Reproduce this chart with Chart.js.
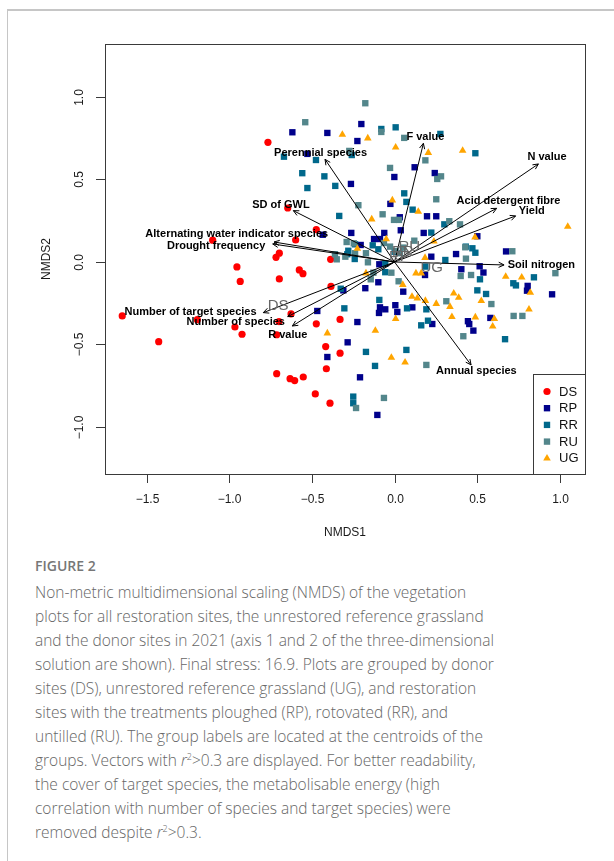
<!DOCTYPE html>
<html>
<head>
<meta charset="utf-8">
<script src="https://cdn.jsdelivr.net/npm/chart.js@4/dist/chart.umd.min.js"></script>
<style>
  html, body { margin: 0; padding: 0; background: #fff; }
  #page { position: relative; width: 614px; height: 861px; overflow: hidden; }
  #frame { position: absolute; left: 7px; top: 9px; right: 0; bottom: 0;
           border-top: 2px solid #c6c6c6; border-left: 1px solid #c6c6c6; }
  #nmds { position: absolute; left: 0; top: 0; }
  #preload { position: absolute; left: -999px; top: 0; font-family: "Liberation Sans"; }
  #preload b { font-weight: bold; }
  #caption { position: absolute; left: 35px; top: 557px; color: #666;
             font-family: "Open Sans", "Noto Sans", sans-serif; }
  #caption .fig { font-size: 14px; line-height: 18px; font-weight: 600; color: #777; margin-bottom: 5px; }
  #caption .txt { font-size: 15.5px; line-height: 24px; font-weight: 300; white-space: nowrap; }
  #caption sup { font-size: 9px; line-height: 0; vertical-align: 6px; }
</style>
</head>
<body>
<div id="page">
  <div id="frame"></div>
  <span id="preload">NMDS <b>Yield</b></span>
  <canvas id="nmds" width="614" height="545"></canvas>
  <div id="caption">
    <div class="fig">FIGURE 2</div>
    <div class="txt">
      Non-metric multidimensional scaling (NMDS) of the vegetation<br>
      plots for all restoration sites, the unrestored reference grassland<br>
      and the donor sites in 2021 (axis 1 and 2 of the three-dimensional<br>
      solution are shown). Final stress: 16.9. Plots are grouped by donor<br>
      sites (DS), unrestored reference grassland (UG), and restoration<br>
      sites with the treatments ploughed (RP), rotovated (RR), and<br>
      untilled (RU). The group labels are located at the centroids of the<br>
      groups. Vectors with <i>r</i><sup>2</sup>&gt;0.3 are displayed. For better readability,<br>
      the cover of target species, the metabolisable energy (high<br>
      correlation with number of species and target species) were<br>
      removed despite <i>r</i><sup>2</sup>&gt;0.3.
    </div>
  </div>
</div>
<script>
// site scores (NMDS1, NMDS2) per group
const dsX = [-0.767,-0.647,-0.474,-1.102,-0.599,-0.698,-0.718,-0.387,-0.955,-0.577,-0.555,-0.935,-0.698,-0.385,-0.627,-0.330,-0.474,-0.700,-1.650,-1.195,-0.967,-0.924,-0.714,-1.429,-0.417,-0.330,-0.413,-0.714,-0.633,-0.605,-0.553,-0.480,-0.391];
const dsY = [0.725,0.327,0.196,0.132,0.133,0.053,0.028,0.016,-0.030,-0.048,-0.071,-0.118,-0.103,-0.148,-0.315,-0.348,-0.375,-0.361,-0.327,-0.350,-0.394,-0.438,-0.441,-0.483,-0.513,-0.553,-0.647,-0.677,-0.707,-0.719,-0.697,-0.800,-0.856];

const rpX = [-0.619,-0.407,-0.528,-0.264,-0.435,-0.310,-0.468,-0.284,-0.407,-0.201,-0.225,0.122,0.244,-0.001,-0.025,0.197,0.253,0.032,0.038,0.177,-0.262,-0.062,0.502,-0.124,-0.088,0.373,0.676,0.223,0.516,0.405,0.539,0.807,0.803,0.955,0.581,0.445,0.453,0.478,0.229,-0.225,-0.088,-0.056,-0.094,0.005,0.017,0.108,0.053,-0.098,-0.177,-0.209,-0.104,-0.205,-0.092,0.185];
const rpY = [0.786,0.782,0.655,0.473,0.165,-0.172,-0.297,-0.487,-0.576,0.836,0.733,0.574,0.539,0.515,0.352,0.277,0.277,0.271,0.192,0.176,0.176,0.176,0.156,0.139,0.139,0.048,0.064,0.032,-0.026,-0.044,-0.064,-0.145,-0.174,-0.196,-0.339,-0.359,-0.376,-0.416,-0.376,-0.364,-0.275,-0.287,-0.309,-0.262,-0.303,-0.275,-0.180,-0.123,-0.159,-0.699,-0.927,0.103,-0.014,-0.079];

const rrX = [-0.670,-0.476,-0.559,-0.425,-0.528,-0.359,-0.335,-0.280,-0.326,-0.304,-0.259,-0.080,0.007,0.278,0.490,0.059,0.110,0.302,0.223,-0.132,0.472,0.490,-0.241,0.308,0.001,0.845,0.072,-0.239,0.432,0.518,0.720,0.736,0.502,0.555,-0.092,0.076,0.193,0.162,0.203,0.072,-0.118,-0.173,-0.250,-0.250,0.670,-0.056,-0.286,-0.056,0.187,-0.098];
const rrY = [0.638,0.618,0.538,0.519,0.448,0.461,0.279,0.068,-0.162,-0.281,0.648,0.806,0.816,0.776,0.659,0.416,0.317,0.228,0.178,0.101,0.083,0.056,0.018,0.012,0.062,-0.093,0.364,0.107,0.093,-0.105,-0.129,-0.142,-0.172,-0.194,-0.230,-0.281,-0.287,-0.384,-0.356,-0.533,-0.630,-0.545,-0.816,-0.856,-0.468,-0.062,0.047,-0.010,-0.028,0.077];

const ruX = [-0.541,-0.274,-0.290,-0.350,-0.298,-0.177,-0.080,0.059,0.187,0.259,0.282,-0.027,0.253,-0.219,-0.072,-0.003,0.027,0.332,0.397,0.429,0.433,0.714,-0.173,-0.161,0.975,0.120,0.401,0.464,0.722,0.775,0.587,0.314,0.417,0.193,-0.233,-0.064,0.025,-0.019,-0.247,-0.361,-0.239,-0.064,-0.027,0.007,0.033,0.053,-0.128,-0.144];
const ruY = [0.847,0.673,0.121,0.016,0.032,0.962,0.788,0.752,0.616,0.503,0.519,0.570,0.380,0.344,0.289,0.255,0.255,0.247,0.228,0.089,0.020,0.065,0.053,-0.002,-0.068,0.129,-0.085,-0.079,-0.327,-0.327,-0.255,-0.238,-0.450,-0.624,-0.885,-0.824,-0.117,-0.065,0.113,0.047,0.053,0.115,0.093,0.067,0.053,0.087,-0.065,-0.105];

const ugX = [-0.316,-0.162,0.007,0.205,0.413,-0.013,0.144,-0.138,-0.050,0.239,0.488,1.050,-0.225,0.185,0.130,0.162,0.674,0.771,0.823,0.815,0.359,0.389,0.526,0.336,0.253,0.348,0.490,0.605,0.595,0.064,-0.019,-0.116,0.007,0.106,0.138,0.187,0.050,-0.407,-0.173];
const ugY = [0.772,0.750,0.695,0.662,0.675,0.374,0.305,0.259,0.139,0.125,0.150,0.214,0.081,0.026,-0.068,-0.068,-0.089,-0.093,-0.186,-0.287,-0.190,-0.216,-0.236,-0.271,-0.253,-0.333,-0.335,-0.345,-0.390,-0.608,-0.580,-0.416,-0.345,-0.210,-0.220,-0.235,-0.138,-0.432,-0.068];

const groupNames = ["DS", "RP", "RR", "RU", "UG"];
const groupColors = ["#FF0000", "#00008B", "#00688B", "#53868B", "#FFA500"];
const groupStyles = ["circle", "rect", "rect", "rect", "triangle"];
const groupX = [dsX, rpX, rrX, ruX, ugX];
const groupY = [dsY, rpY, rrY, ruY, ugY];

// group centroids (label positions)
const centX = [-0.705, 0.030, 0.050, 0.090, 0.225];
const centY = [-0.267, 0.030, 0.060, 0.092, -0.038];

// fitted environmental vectors (arrow tips) and their label positions
const vecNames = ["F value", "N value", "Acid detergent fibre", "Yield", "Soil nitrogen",
  "Perennial species", "SD of GWL", "Alternating water indicator species", "Drought frequency",
  "Number of target species", "Number of species", "R value", "Annual species"];
const vecX = [0.175, 0.872, 0.619, 0.734, 0.664, -0.421, -0.613, -0.730, -0.738, -0.795, -0.647, -0.619, 0.464];
const vecY = [0.719, 0.594, 0.325, 0.279, -0.018, 0.622, 0.311, 0.121, 0.109, -0.307, -0.331, -0.388, -0.624];
const labX = [0.187, 0.924, 0.691, 0.832, 0.890, -0.448, -0.688, -0.956, -1.081, -1.236, -0.962, -0.647, 0.496];
const labY = [0.759, 0.635, 0.370, 0.311, -0.018, 0.661, 0.344, 0.170, 0.099, -0.301, -0.366, -0.442, -0.659];

const xTicks = [-1.5, -1.0, -0.5, 0.0, 0.5, 1.0];
const xTickLabels = ["\u22121.5", "\u22121.0", "\u22120.5", "0.0", "0.5", "1.0"];
const yTicks = [-1.0, -0.5, 0.0, 0.5, 1.0];
const yTickLabels = ["\u22121.0", "\u22120.5", "0.0", "0.5", "1.0"];

const FONT = '"Liberation Sans", Arial, Helvetica, sans-serif';
const radii = { circle: 3.6, rect: 4.5, triangle: 4.4 };

function drawSymbol(ctx, style, color, px, py) {
  ctx.fillStyle = color;
  ctx.beginPath();
  if (style === "circle") {
    ctx.arc(px, py, radii.circle, 0, Math.PI * 2);
  } else if (style === "rect") {
    const s = radii.rect * Math.SQRT1_2;
    ctx.rect(px - s, py - s, 2 * s, 2 * s);
  } else {
    const r = radii.triangle;
    ctx.moveTo(px, py - r);
    ctx.lineTo(px + r * 0.866, py + r * 0.5);
    ctx.lineTo(px - r * 0.866, py + r * 0.5);
    ctx.closePath();
  }
  ctx.fill();
}

function drawArrow(ctx, x0, y0, x1, y1) {
  const ang = Math.atan2(y1 - y0, x1 - x0);
  const L = 6, th = Math.PI / 7;
  ctx.beginPath();
  ctx.moveTo(x0, y0);
  ctx.lineTo(x1, y1);
  ctx.stroke();
  ctx.beginPath();
  ctx.moveTo(x1 - L * Math.cos(ang - th), y1 - L * Math.sin(ang - th));
  ctx.lineTo(x1, y1);
  ctx.lineTo(x1 - L * Math.cos(ang + th), y1 - L * Math.sin(ang + th));
  ctx.stroke();
}

const nmdsPlugin = {
  id: "nmdsExtras",
  afterDatasetsDraw(chart) {
    const { ctx, scales: { x, y } } = chart;
    ctx.save();
    // vectors
    ctx.strokeStyle = "#000";
    ctx.lineWidth = 1;
    const ox = x.getPixelForValue(0), oy = y.getPixelForValue(0);
    vecNames.forEach((n, i) => {
      drawArrow(ctx, ox, oy, x.getPixelForValue(vecX[i]), y.getPixelForValue(vecY[i]));
    });
    // centroid labels
    ctx.font = "15px " + FONT;
    ctx.fillStyle = "#666";
    ctx.textAlign = "center";
    ctx.textBaseline = "middle";
    groupNames.forEach((g, i) => {
      ctx.fillText(g, x.getPixelForValue(centX[i]), y.getPixelForValue(centY[i]));
    });
    // vector labels
    ctx.font = "bold 11px " + FONT;
    ctx.fillStyle = "#000";
    vecNames.forEach((n, i) => {
      ctx.fillText(n, x.getPixelForValue(labX[i]), y.getPixelForValue(labY[i]));
    });
    ctx.restore();
  },
  afterDraw(chart) {
    const { ctx, chartArea: a, scales: { x, y } } = chart;
    ctx.save();
    ctx.strokeStyle = "#3a3a3a";
    ctx.lineWidth = 1;
    ctx.strokeRect(Math.round(a.left) + 0.5, Math.round(a.top) + 0.5,
      Math.round(a.right - a.left), Math.round(a.bottom - a.top));
    // axis ticks + labels
    ctx.fillStyle = "#1a1a1a";
    ctx.font = "12px " + FONT;
    ctx.textAlign = "center";
    ctx.textBaseline = "middle";
    xTicks.forEach((t, i) => {
      const px = Math.round(x.getPixelForValue(t)) + 0.5;
      ctx.beginPath();
      ctx.moveTo(px, a.bottom);
      ctx.lineTo(px, a.bottom + 9);
      ctx.stroke();
      ctx.fillText(xTickLabels[i], px, a.bottom + 26);
    });
    yTicks.forEach((t, i) => {
      const py = Math.round(y.getPixelForValue(t)) + 0.5;
      ctx.beginPath();
      ctx.moveTo(a.left, py);
      ctx.lineTo(a.left - 9, py);
      ctx.stroke();
      ctx.save();
      ctx.translate(a.left - 25, py);
      ctx.rotate(-Math.PI / 2);
      ctx.fillText(yTickLabels[i], 0, 0);
      ctx.restore();
    });
    ctx.fillText("NMDS1", (a.left + a.right) / 2, a.bottom + 59);
    ctx.save();
    ctx.translate(a.left - 58, (a.top + a.bottom) / 2);
    ctx.rotate(-Math.PI / 2);
    ctx.fillText("NMDS2", 0, 0);
    ctx.restore();

    // legend (bottom right)
    const lw = 52, lh = 100;
    const lx = a.right - lw, ly = a.bottom - lh;
    ctx.fillStyle = "#fff";
    ctx.fillRect(lx, ly, lw, lh);
    ctx.strokeRect(Math.round(lx) + 0.5, Math.round(ly) + 0.5, lw, lh);
    ctx.font = "13px " + FONT;
    ctx.textAlign = "left";
    groupNames.forEach((g, i) => {
      const yy = ly + 17.5 + i * 16.7;
      drawSymbol(ctx, groupStyles[i], groupColors[i], lx + 14, yy);
      ctx.fillStyle = "#111";
      ctx.fillText(g, lx + 26, yy + 0.5);
    });
    ctx.restore();
  }
};

const datasets = groupNames.map((g, i) => ({
  label: g,
  data: groupX[i].map((v, j) => ({ x: v, y: groupY[i][j] })),
  pointStyle: groupStyles[i],
  pointRadius: radii[groupStyles[i]],
  backgroundColor: groupColors[i],
  borderColor: groupColors[i],
  borderWidth: 0,
  order: groupNames.length - i
}));

function build() {
  new Chart(document.getElementById("nmds"), {
    type: "scatter",
    data: { datasets: datasets },
    options: {
      responsive: false,
      animation: false,
      events: [],
      layout: { padding: { left: 105, right: 29, top: 44, bottom: 71 } },
      scales: {
        x: { type: "linear", min: -1.7545, max: 1.1545, display: false },
        y: { type: "linear", min: -1.285, max: 1.321, display: false }
      },
      plugins: { legend: { display: false }, tooltip: { enabled: false } }
    },
    plugins: [nmdsPlugin]
  });
}

Promise.all([
  document.fonts.load('12px "Liberation Sans"'),
  document.fonts.load('bold 11px "Liberation Sans"')
]).then(build, build);
</script>
</body>
</html>
